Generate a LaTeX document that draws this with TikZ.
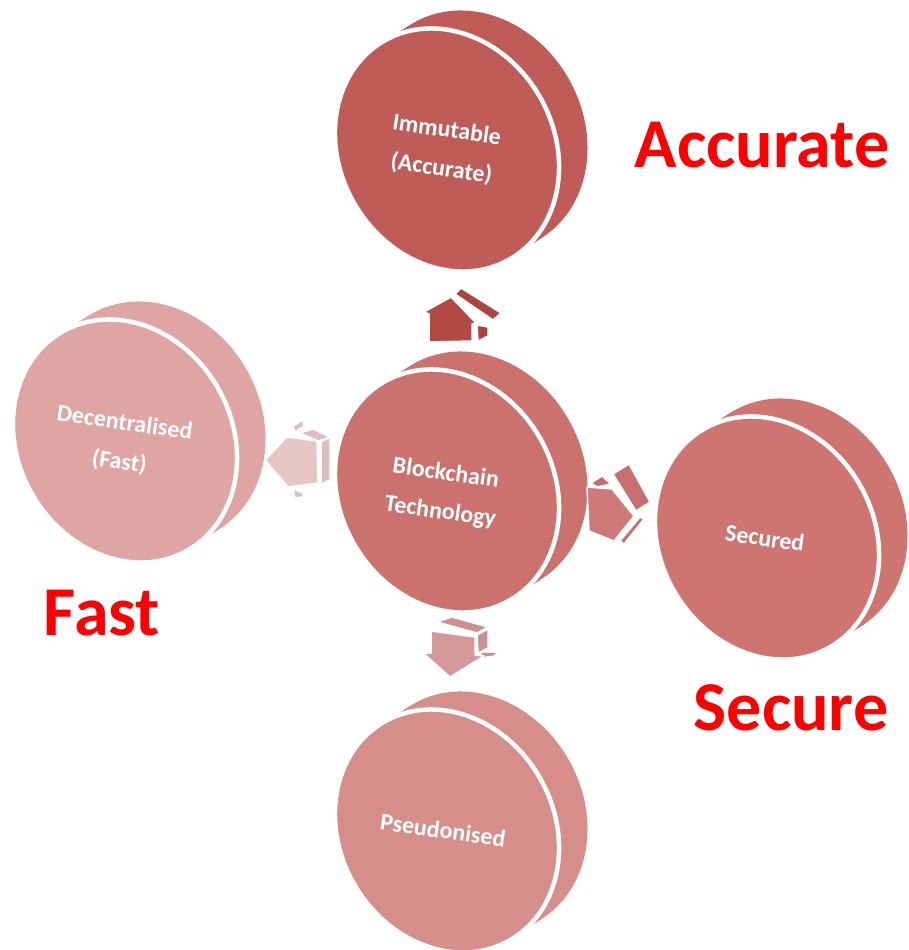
\documentclass[tikz,border=0pt]{standalone}
\usepackage{fontspec}
\newfontfamily\carlito{Carlito}
\definecolor{cTop}{RGB}{192,92,88}
\definecolor{cMid}{RGB}{203,114,110}
\definecolor{cLeft}{RGB}{222,165,164}
\definecolor{cRight}{RGB}{206,117,114}
\definecolor{cBot}{RGB}{214,142,139}
\definecolor{aTop}{RGB}{178,73,69}
\definecolor{aTopS}{RGB}{172,68,64}
\definecolor{aLeft}{RGB}{229,197,198}
\definecolor{aLeftS}{RGB}{223,188,189}
\definecolor{aRight}{RGB}{206,120,120}
\definecolor{aRightS}{RGB}{199,111,111}
\definecolor{aBot}{RGB}{213,152,152}
\definecolor{aBotS}{RGB}{206,143,143}
\newcommand{\mydisc}[2]{%
  \foreach \t in {0.05,0.1,...,1.0}{%
    \fill[#2, shift={(#1)}, shift={(31*\t,-20*\t)}, rotate=30] (0,0) ellipse [x radius=106pt, y radius=125pt];
  }
  \filldraw[fill=#2, draw=white, line width=4.5pt, shift={(#1)}, rotate=30] (0,0) ellipse [x radius=107pt, y radius=126pt];
}
\tikzset{
  disctext/.style={text=white, font=\carlito\bfseries\fontsize{24}{39}\selectfont, align=center, rotate=-8, inner sep=0pt},
  biglabel/.style={text=red, font=\carlito\bfseries\fontsize{70}{84}\selectfont, inner sep=0pt, anchor=base},
  aface/.style={draw=white, line width=1.5pt, line join=round}
}
\begin{document}
\begin{tikzpicture}[x=1pt,y=-1pt]
\useasboundingbox (0,0) rectangle (908,950);
% discs
\mydisc{447,150}{cTop}
\mydisc{125,441}{cLeft}
\mydisc{767,538}{cRight}
\mydisc{447,831}{cBot}
\mydisc{447,491}{cMid}
% top arrow
\filldraw[aface, fill=aTopS] (455,294) -- (461,288) -- (501,313) -- (493,320) -- cycle;
\filldraw[aface, fill=aTopS] (477,325) -- (488,327) -- (488,336) -- (478,341) -- cycle;
\filldraw[aface, fill=aTop] (424,312) -- (451,297) -- (476,323) -- (472,324) -- (472,341) -- (429,342) -- (429,314) -- cycle;
% left arrow
\filldraw[aface, fill=aLeftS] (293,426) -- (303,420) -- (304,426) -- (295,432) -- cycle;
\filldraw[aface, fill=aLeftS] (300,433) -- (313,429) -- (330,437) -- (318,441) -- cycle;
\filldraw[aface, fill=aLeftS] (321,442) -- (330,437) -- (330,480) -- (321,484) -- cycle;
\filldraw[aface, fill=aLeftS] (293,489) -- (303,493) -- (303,497) -- (295,498) -- cycle;
\filldraw[aface, fill=aLeft] (265,460) -- (287,437) -- (317,441) -- (318,483) -- (288,487) -- cycle;
% right arrow
\filldraw[aface, fill=aRightS] (591,483) -- (602,476) -- (611,484) -- (597,487) -- cycle;
\filldraw[aface, fill=aRightS] (613,474) -- (629,464) -- (650,502) -- (636,511) -- cycle;
\filldraw[aface, fill=aRightS] (620,541) -- (640,517) -- (644,519) -- (624,544) -- cycle;
\filldraw[aface, fill=aRight] (587,487) -- (612,489) -- (634,516) -- (614,541) -- (589,531) -- cycle;
% bottom arrow
\filldraw[aface, fill=aBotS] (437,622) -- (452,617) -- (488,627) -- (477,633) -- cycle;
\filldraw[aface, fill=aBotS] (477,635) -- (488,629) -- (488,648) -- (478,653) -- cycle;
\filldraw[aface, fill=aBotS] (481,652) -- (497,652) -- (495,656) -- (480,658) -- cycle;
\filldraw[aface, fill=aBot] (431,631) -- (475,637) -- (475,655) -- (484,656) -- (450,677) -- (423,653) -- (431,653) -- cycle;
% disc texts
\node[disctext] (tImm) at (444,150) {Immutable\\(Accurate)};
\node[disctext] (tBlk) at (443,493) {Blockchain\\Technology};
\node[disctext] (tDec) at (122,443) {Decentralised\\(Fast)};
\node[disctext] (tSec) at (765,538) {Secured};
\node[disctext] (tPse) at (443,830) {Pseudonised};
% labels
\node[biglabel] (lAcc) at (762,167) {Accurate};
\node[biglabel] (lFast) at (102,635) {Fast};
\node[biglabel] (lSec) at (791,730) {Secure};
\end{tikzpicture}
\end{document}
